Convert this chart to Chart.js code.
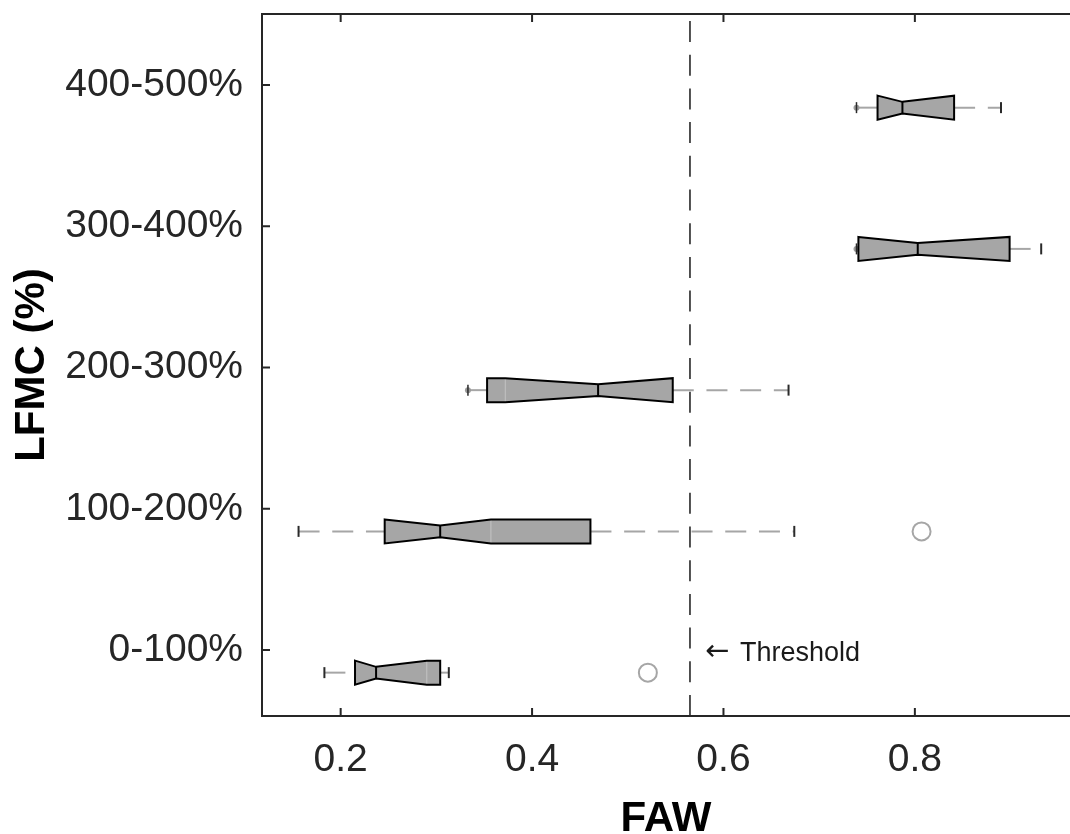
<!DOCTYPE html>
<html><head><meta charset="utf-8">
<script src="https://cdn.jsdelivr.net/npm/chart.js@4.4.1/dist/chart.umd.min.js"></script>
<style>html,body{margin:0;padding:0;background:#fff;overflow:hidden}#wrap{width:1070px;height:834px}</style>
</head><body><div id="wrap"><canvas id="c" width="1070" height="834"></canvas></div>
<script>
// ---- data ----
const categories  = ['0-100%', '100-200%', '200-300%', '300-400%', '400-500%'];
const whiskerLow  = [0.183, 0.156, 0.333, 0.739, 0.739];
const q1          = [0.215, 0.246, 0.353, 0.741, 0.761];
const notchLow    = [0.215, 0.246, 0.372, 0.741, 0.761];
const median      = [0.237, 0.304, 0.469, 0.803, 0.787];
const notchHigh   = [0.290, 0.357, 0.547, 0.899, 0.841];
const q3          = [0.304, 0.461, 0.547, 0.899, 0.841];
const whiskerHigh = [0.313, 0.674, 0.668, 0.932, 0.890];
const outlierCat  = [0, 1];
const outlierVal  = [0.521, 0.807];
const xTicks      = [0.2, 0.4, 0.6, 0.8];
const threshold   = 0.565;
const thresholdLabel = 'Threshold';

// ---- style constants ----
const FONT = '"Liberation Sans", Arial, Helvetica, sans-serif';
const BOX_SHIFT = 0.16;      // boxes drawn slightly below their category tick
const BOX_HALF = 12, NOTCH_HALF = 5.8, CAP_HALF = 5.5;
const lowMarker = [false, false, true, true, true];
const X_MIN = 0.1178, X_MAX = 0.9621, Y_MIN = 0.533, Y_MAX = 5.503;

const boxPlugin = {
  id: 'notchedBoxes',
  beforeDatasetsDraw(chart) {
    const {ctx, scales: {x, y}, chartArea: a} = chart;
    const X = v => x.getPixelForValue(v);
    ctx.save();
    ctx.beginPath(); ctx.rect(a.left, a.top, a.right - a.left, a.bottom - a.top); ctx.clip();
    for (let i = 0; i < categories.length; i++) {
      const yc = y.getPixelForValue(i + 1 - BOX_SHIFT);
      // whiskers
      ctx.strokeStyle = '#a6a6a6'; ctx.lineWidth = 2; ctx.setLineDash([21, 12.7]);
      ctx.beginPath(); ctx.moveTo(X(whiskerLow[i]), yc); ctx.lineTo(X(q1[i]), yc); ctx.stroke();
      ctx.beginPath(); ctx.moveTo(X(q3[i]), yc); ctx.lineTo(X(whiskerHigh[i]), yc); ctx.stroke();
      ctx.setLineDash([]);
      if (lowMarker[i]) {
        ctx.fillStyle = '#9a9a9a';
        ctx.beginPath(); ctx.arc(X(whiskerLow[i]), yc, 3, 0, Math.PI * 2); ctx.fill();
      }
      ctx.strokeStyle = '#2a2a2a'; ctx.lineWidth = lowMarker[i] ? 1.5 : 2;
      ctx.beginPath(); ctx.moveTo(X(whiskerLow[i]), yc - CAP_HALF); ctx.lineTo(X(whiskerLow[i]), yc + CAP_HALF); ctx.stroke();
      ctx.lineWidth = 2;
      ctx.beginPath(); ctx.moveTo(X(whiskerHigh[i]), yc - CAP_HALF); ctx.lineTo(X(whiskerHigh[i]), yc + CAP_HALF); ctx.stroke();
      const pts = [
        [X(q1[i]), yc - BOX_HALF], [X(notchLow[i]), yc - BOX_HALF], [X(median[i]), yc - NOTCH_HALF],
        [X(notchHigh[i]), yc - BOX_HALF], [X(q3[i]), yc - BOX_HALF], [X(q3[i]), yc + BOX_HALF],
        [X(notchHigh[i]), yc + BOX_HALF], [X(median[i]), yc + NOTCH_HALF], [X(notchLow[i]), yc + BOX_HALF],
        [X(q1[i]), yc + BOX_HALF]
      ];
      ctx.beginPath();
      pts.forEach((p, k) => k ? ctx.lineTo(p[0], p[1]) : ctx.moveTo(p[0], p[1]));
      ctx.closePath();
      ctx.fillStyle = '#a6a6a6'; ctx.fill();
      ctx.strokeStyle = '#c4c4c4'; ctx.lineWidth = 1;
      if (notchLow[i] > q1[i] + 1e-6) { ctx.beginPath(); ctx.moveTo(X(notchLow[i]), yc - BOX_HALF); ctx.lineTo(X(notchLow[i]), yc + BOX_HALF); ctx.stroke(); }
      if (notchHigh[i] < q3[i] - 1e-6) { ctx.beginPath(); ctx.moveTo(X(notchHigh[i]), yc - BOX_HALF); ctx.lineTo(X(notchHigh[i]), yc + BOX_HALF); ctx.stroke(); }
      ctx.beginPath();
      pts.forEach((p, k) => k ? ctx.lineTo(p[0], p[1]) : ctx.moveTo(p[0], p[1]));
      ctx.closePath();
      ctx.strokeStyle = '#000'; ctx.lineWidth = 2; ctx.lineJoin = 'miter'; ctx.stroke();
      ctx.beginPath(); ctx.moveTo(X(median[i]), yc - NOTCH_HALF); ctx.lineTo(X(median[i]), yc + NOTCH_HALF); ctx.stroke();
    }
    ctx.restore();
  },
  afterDatasetsDraw(chart) {
    const {ctx, scales: {x, y}, chartArea: a} = chart;
    const tx = x.getPixelForValue(threshold);
    ctx.save();
    ctx.strokeStyle = '#1a1a1a'; ctx.lineWidth = 1.5; ctx.setLineDash([21, 12.7]);
    ctx.beginPath(); ctx.moveTo(tx, a.bottom); ctx.lineTo(tx, a.top); ctx.stroke();
    ctx.setLineDash([]);
    const ty = y.getPixelForValue(1) + 11;
    ctx.fillStyle = '#1a1a1a'; ctx.textBaseline = 'alphabetic'; ctx.textAlign = 'left';
    ctx.font = '29px "DejaVu Sans", sans-serif';
    ctx.fillText('\u2190', tx + 15, ty - 1);
    ctx.font = '27px ' + FONT;
    ctx.fillText(thresholdLabel, tx + 50, ty);
    ctx.restore();
  },
  afterDraw(chart) {
    const {ctx, scales: {x, y}, chartArea: a} = chart;
    ctx.save();
    ctx.strokeStyle = '#262626'; ctx.lineWidth = 2;
    ctx.beginPath();
    ctx.moveTo(a.left, a.top); ctx.lineTo(a.left, a.bottom);
    ctx.moveTo(a.left - 1, a.bottom); ctx.lineTo(a.right, a.bottom);
    ctx.moveTo(a.left - 1, a.top); ctx.lineTo(a.right, a.top);
    x.ticks.forEach(t => {
      const px = x.getPixelForValue(t.value);
      ctx.moveTo(px, a.bottom); ctx.lineTo(px, a.bottom - 8);
      ctx.moveTo(px, a.top); ctx.lineTo(px, a.top + 8);
    });
    y.ticks.forEach(t => {
      const py = y.getPixelForValue(t.value);
      ctx.moveTo(a.left, py); ctx.lineTo(a.left + 8, py);
    });
    ctx.stroke();
    ctx.restore();
  }
};

new Chart(document.getElementById('c'), {
  type: 'scatter',
  data: {
    datasets: [{
      data: outlierCat.map((c, k) => ({x: outlierVal[k], y: c + 1 - BOX_SHIFT})),
      pointStyle: 'circle', pointRadius: 9, pointBorderWidth: 2,
      pointBorderColor: '#a6a6a6', pointBackgroundColor: 'rgba(0,0,0,0)', showLine: false
    }]
  },
  options: {
    responsive: false, animation: false,
    layout: {autoPadding: false, padding: {top: 14, left: 0, right: 0, bottom: 0}},
    plugins: {legend: {display: false}, tooltip: {enabled: false}},
    scales: {
      x: {
        type: 'linear', min: X_MIN, max: X_MAX,
        afterBuildTicks: s => { s.ticks = xTicks.map(v => ({value: v})); },
        afterFit: s => { s.height = 118; s.paddingLeft = 0; s.paddingRight = 0; },
        grid: {display: false, drawTicks: false}, border: {display: false},
        ticks: {padding: 25, color: '#262626', font: {family: FONT, size: 39, lineHeight: 1},
                callback: v => v.toFixed(1)},
        title: {display: true, text: 'FAW', color: '#000',
                font: {family: FONT, size: 42, weight: 'bold', lineHeight: 0.6}, padding: {top: 0, bottom: 2}}
      },
      y: {
        type: 'linear', min: Y_MIN, max: Y_MAX,
        afterBuildTicks: s => { s.ticks = categories.map((c, i) => ({value: i + 1})); },
        afterFit: s => { s.width = 262; s.paddingTop = 0; s.paddingBottom = 0; },
        grid: {display: false, drawTicks: false}, border: {display: false},
        ticks: {padding: 19, color: '#262626', font: {family: FONT, size: 39, lineHeight: 1},
                callback: v => categories[Math.round(v) - 1]},
        title: {display: true, text: 'LFMC (%)', color: '#000',
                font: {family: FONT, size: 42, weight: 'bold', lineHeight: 1}, padding: {top: 11, bottom: 0}}
      }
    }
  },
  plugins: [boxPlugin]
});
</script>
</body></html>
